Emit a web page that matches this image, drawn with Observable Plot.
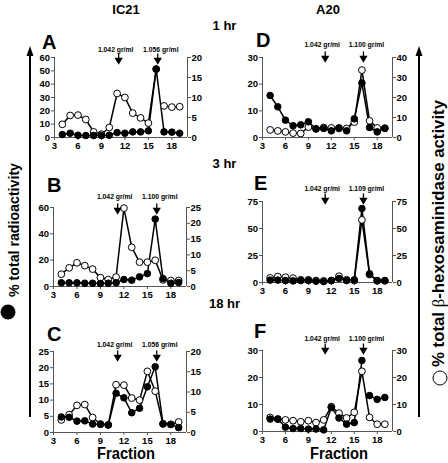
<!DOCTYPE html>
<html><head><meta charset="utf-8">
<script src="https://cdn.jsdelivr.net/npm/d3@7"></script>
<script src="https://cdn.jsdelivr.net/npm/@observablehq/plot@0.6"></script>
<style>
body{margin:0;background:#fff;}
#fig{position:relative;width:448px;height:463px;overflow:hidden;background:#fff;font-family:"Liberation Sans",Arial,sans-serif;}
#fig > svg{position:absolute;}
</style></head><body><div id="fig"></div>
<script>
// ---- data ----
const fractions = [4,5,6,7,8,9,10,11,12,13,14,15,16,17,18,19];
const xTicks = [3,6,9,12,15,18];
const densityX = [11.2, 16.2];

const A_radio = [2.2,3.2,1.7,1.5,1.5,1.5,1.7,3.7,3.2,4.2,4.2,5.0,51.3,4.2,4.0,3.2];
const A_hex   = [3.3,5.5,5.6,4.5,1.4,0.8,2.5,11.0,10.0,6.1,4.9,3.6,17.1,7.9,7.6,7.7];
const B_radio = [2.8,2.8,2.8,2.5,2.5,2.3,2.5,2.8,5.3,4.8,7.3,9.8,51.2,6.0,2.5,3.0];
const B_hex   = [3.9,5.9,7.5,6.6,5.5,2.8,2.2,3.0,24.8,12.4,7.7,7.7,8.3,2.1,1.9,1.9];
const C_radio = [4.8,4.7,3.5,3.6,2.6,2.5,2.3,12.1,10.7,6.1,7.5,14.1,20.3,2.7,2.5,1.5];
const C_hex   = [3.1,4.4,6.7,6.9,3.7,2.1,1.9,11.8,11.7,8.5,8.0,15.1,10.2,2.1,2.0,2.6];
const D_radio = [15.75,11.5,6.5,4.4,4.75,5.9,3.25,3.4,2.5,3.6,2.5,7.0,20.4,3.75,2.1,3.4];
const D_hex   = [3.8,3.3,2.8,2.2,2.0,5.2,4.3,5.0,4.8,4.5,4.5,7.7,33.7,8.3,4.8,4.7];
const E_radio = [2.2,2.2,1.8,1.5,1.8,1.8,1.2,0.9,1.8,3.7,1.8,2.5,68.5,8.0,1.8,1.8];
const E_hex   = [4.3,5.5,4.9,4.0,2.5,2.5,1.8,1.5,1.8,5.8,2.5,1.8,58.0,7.4,1.5,1.5];
const F_radio = [4.6,4.6,1.6,1.1,1.1,0.9,0.9,0.6,8.9,5.0,2.7,3.3,26.3,13.3,11.9,12.6];
const F_hex   = [5.2,4.6,4.3,4.0,3.6,4.0,3.3,4.3,9.2,6.8,5.0,7.1,22.3,5.2,2.7,2.7];

const A_ticks = [0,10,20,30,40,50,60], A_ticks2 = [0,5,10,15,20];
const B_ticks = [0,20,40,60],          B_ticks2 = [0,5,10,15,20,25];
const C_ticks = [0,5,10,15,20,25],     C_ticks2 = [0,5,10,15,20];
const D_ticks = [0,10,20,30],          D_ticks2 = [0,10,20,30,40];
const E_ticks = [0,25,50,75],          E_ticks2 = [0,25,50,75];
const F_ticks = [0,10,20,30],          F_ticks2 = [0,10,20,30];

const A_labels = ["1.042 gr/ml","1.056 gr/ml"];
const B_labels = ["1.042 gr/ml","1.100 gr/ml"];
const C_labels = ["1.042 gr/ml","1.056 gr/ml"];
const D_labels = ["1.042 gr/ml","1.100 gr/ml"];
const E_labels = ["1.042 gr/ml","1.109 gr/ml"];
const F_labels = ["1.042 gr/ml","1.100 gr/ml"];

const columnTitles = ["IC21","A20"];
const timeLabels = ["1 hr","3 hr","18 hr"];
const panelLetters = ["A","B","C","D","E","F"];
const leftLabel = "% total radioactivity";
const rightLabelPre = "% total ", rightLabelBeta = "\u03B2", rightLabelPost = "-hexosaminidase activity";
const xLabel = "Fraction";

// ---- layout ----
const FONT = '"Liberation Sans", Arial, sans-serif';
const axisColor = "#555";
const panels = [
  {radio:A_radio, hex:A_hex, t:A_ticks, t2:A_ticks2, labels:A_labels, L:54, R:187, T:57, B:137, textDy:-6, tipDy:6, breakHex:16},
  {radio:B_radio, hex:B_hex, t:B_ticks, t2:B_ticks2, labels:B_labels, L:53, R:186, T:207, B:286, textDy:-8.5, tipDy:6},
  {radio:C_radio, hex:C_hex, t:C_ticks, t2:C_ticks2, labels:C_labels, L:53, R:186, T:351, B:432, textDy:-5, tipDy:9},
  {radio:D_radio, hex:D_hex, t:D_ticks, t2:D_ticks2, labels:D_labels, L:262, R:392, T:57, B:137, textDy:-11, tipDy:4},
  {radio:E_radio, hex:E_hex, t:E_ticks, t2:E_ticks2, labels:E_labels, L:262, R:392, T:201, B:282, textDy:-11, tipDy:2},
  {radio:F_radio, hex:F_hex, t:F_ticks, t2:F_ticks2, labels:F_labels, L:262, R:392, T:350, B:431, textDy:-10, tipDy:3, breakRadio:16}
];

const arrowSymbol = {
  draw(ctx) {
    ctx.moveTo(0, -10); ctx.lineTo(0, -4);
    ctx.moveTo(-3, -5); ctx.lineTo(3, -5); ctx.lineTo(0, 0); ctx.closePath();
  }
};

const fig = document.getElementById("fig");

// ---- overlay (outer labels) ----
const ov = d3.select(fig).append("svg")
  .attr("width", 448).attr("height", 463)
  .style("left", "0px").style("top", "0px")
  .attr("font-family", FONT).attr("font-weight", "bold");

[[126, 14], [328, 14]].forEach(([x, y], i) =>
  ov.append("text").attr("x", x).attr("y", y).attr("text-anchor", "middle")
    .attr("font-size", 13).text(columnTitles[i]));
[30, 168, 308].forEach((y, i) =>
  ov.append("text").attr("x", 224.5).attr("y", y).attr("text-anchor", "middle")
    .attr("font-size", 13).text(timeLabels[i]));
[[42,49],[47,192],[47,341],[256,47],[254,190],[254,338]].forEach(([x, y], i) =>
  ov.append("text").attr("x", x).attr("y", y).attr("font-size", 20).text(panelLetters[i]));
[126, 339].forEach(x =>
  ov.append("text").attr("x", x).attr("y", 459).attr("text-anchor", "middle")
    .attr("font-size", 16).attr("textLength", 58).attr("lengthAdjust", "spacingAndGlyphs").text(xLabel));

// vertical arrows
[30, 419].forEach(x => {
  ov.append("line").attr("x1", x).attr("x2", x).attr("y1", 417).attr("y2", 54)
    .attr("stroke", "black").attr("stroke-width", 2);
  ov.append("path").attr("d", `M${x - 3.5},56L${x + 3.5},56L${x},46Z`).attr("fill", "black");
});
// left label
ov.append("circle").attr("cx", 8).attr("cy", 312).attr("r", 7.5).attr("fill", "black");
ov.append("text").attr("transform", "translate(19,230) rotate(-90)")
  .attr("text-anchor", "middle").attr("font-size", 14.5)
  .attr("textLength", 134).attr("lengthAdjust", "spacingAndGlyphs").text(leftLabel);
// right label
ov.append("circle").attr("cx", 440).attr("cy", 378).attr("r", 7).attr("fill", "white")
  .attr("stroke", "black").attr("stroke-width", 1);
const rt = ov.append("text").attr("transform", "translate(444,233.5) rotate(-90)")
  .attr("text-anchor", "middle").attr("font-size", 16)
  .attr("textLength", 267).attr("lengthAdjust", "spacingAndGlyphs");
rt.append("tspan").text(rightLabelPre);
rt.append("tspan").attr("font-weight", "normal").attr("font-family", '"Liberation Serif", serif').text(rightLabelBeta);
rt.append("tspan").text(rightLabelPost);

// ---- panels ----
const mL = 30, mR = 26, mT = 30, mB = 22;
panels.forEach(p => {
  const yMax = p.t[p.t.length - 1], y2Max = p.t2[p.t2.length - 1];
  const k = yMax / y2Max;
  const rows = fractions.map((f, i) => ({
    f, radio: p.radio[i], hex: p.hex[i] * k,
    segR: p.breakRadio != null && f > p.breakRadio ? 1 : 0,
    segH: p.breakHex != null && f > p.breakHex ? 1 : 0
  }));
  const ann = densityX.map((x, i) => ({x, label: p.labels[i]}));
  const textOpts = {x: "x", text: "label", frameAnchor: "top", dy: p.textDy, lineAnchor: "bottom", fontSize: 6.8, fill: "#000"};
  const chart = Plot.plot({
    width: p.R - p.L + mL + mR,
    height: p.B - p.T + mT + mB,
    marginLeft: mL, marginRight: mR, marginTop: mT, marginBottom: mB,
    x: {domain: [3, 20], label: null},
    y: {domain: [0, yMax], label: null},
    style: {background: "none", overflow: "visible", fontFamily: FONT, fontWeight: "bold", fontSize: "9.5px", color: "black"},
    marks: [
      Plot.ruleY([0], {x1: 3, x2: 20, stroke: axisColor}),
      Plot.ruleX([3, 20], {y1: 0, y2: yMax, stroke: axisColor}),
      Plot.axisX(xTicks, {tickSize: 3, tickPadding: 1.5, stroke: axisColor, fill: "black", label: null}),
      Plot.axisY(p.t, {anchor: "left", tickSize: 3, tickPadding: 1.5, stroke: axisColor, fill: "black", label: null}),
      Plot.axisY(p.t2.map(v => v * k), {anchor: "right", tickSize: 3, tickPadding: 1, stroke: axisColor, fill: "black", label: null,
        tickFormat: d => String(Math.round(d / k * 100) / 100)}),
      Plot.line(rows, {x: "f", y: "hex", z: "segH", stroke: "black", strokeWidth: 1.5}),
      Plot.line(rows, {x: "f", y: "radio", z: "segR", stroke: "black", strokeWidth: 1.5}),
      Plot.dot(rows, {x: "f", y: "hex", r: 3.4, fill: "white", stroke: "black", strokeWidth: 1}),
      Plot.dot(rows, {x: "f", y: "radio", r: 3.3, fill: "black", stroke: "black", strokeWidth: 1}),
      Plot.text(ann.slice(0, 1), {...textOpts, dx: -3}),
      Plot.text(ann.slice(1), {...textOpts, dx: 3}),
      Plot.dot(ann, {x: "x", frameAnchor: "top", dy: p.tipDy, symbol: arrowSymbol, fill: "black", stroke: "black", strokeWidth: 1.3})
    ]
  });
  chart.style.position = "absolute";
  chart.style.left = (p.L - mL) + "px";
  chart.style.top = (p.T - mT) + "px";
  fig.appendChild(chart);
});
</script></body></html>
